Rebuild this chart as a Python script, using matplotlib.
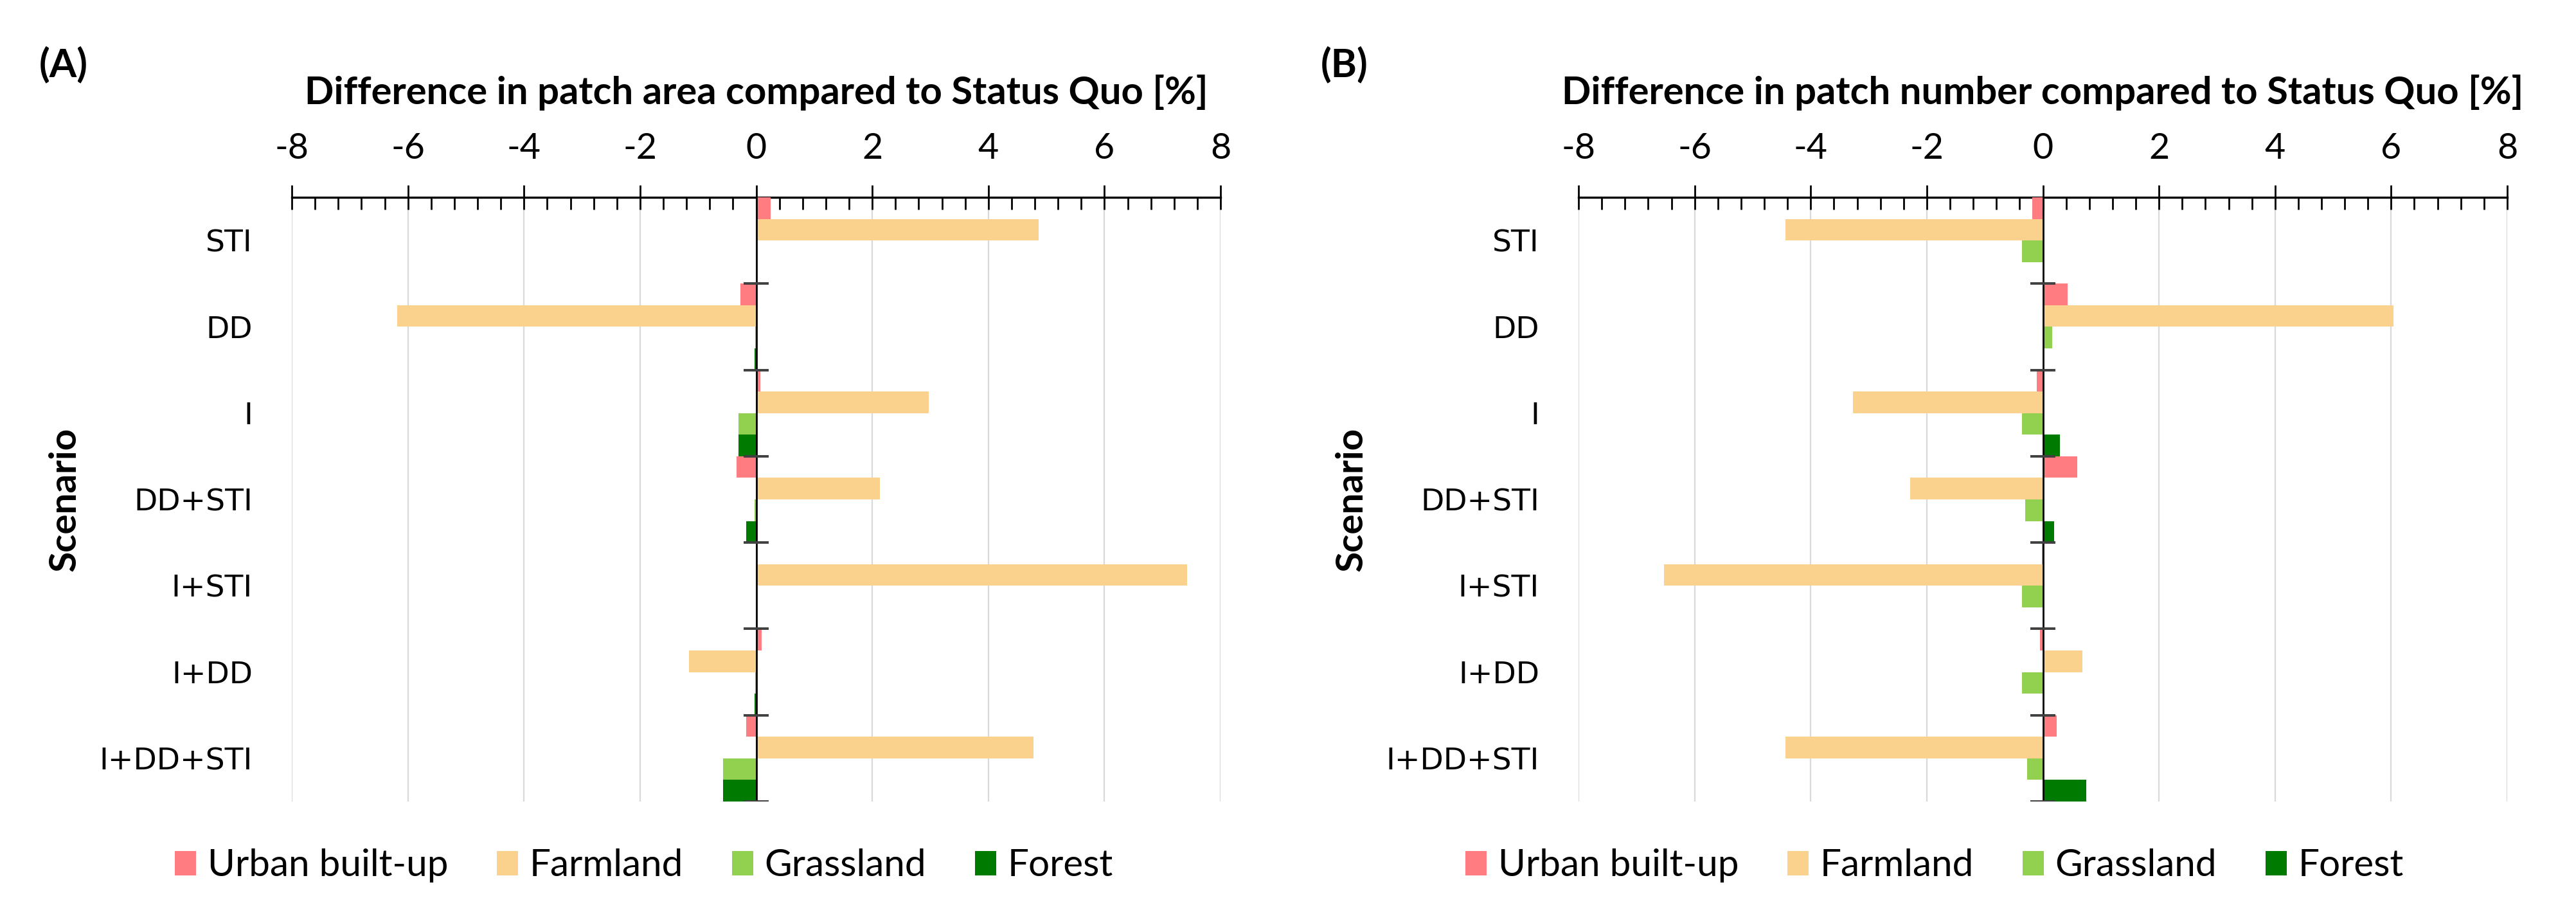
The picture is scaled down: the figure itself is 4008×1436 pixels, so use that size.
import numpy as np
import matplotlib
matplotlib.use("Agg")
import matplotlib.pyplot as plt
from matplotlib.ticker import MultipleLocator
from matplotlib.patches import Patch

plt.rcParams['font.family'] = ['Lato', 'DejaVu Sans']
plt.rcParams['axes.unicode_minus'] = False

# scenarios, top to bottom
scenarios = ["STI", "DD", "I", "DD+STI", "I+STI", "I+DD", "I+DD+STI"]
land_uses = ["Urban built-up", "Farmland", "Grassland", "Forest"]
colors = ["#FF7C80", "#FAD28E", "#92D050", "#007A00"]

# (A) difference in patch area [%]
area_urban = [0.25, -0.27, 0.07, -0.34, 0.0, 0.09, -0.17]
area_farm = [4.87, -6.19, 2.97, 2.13, 7.42, -1.16, 4.78]
area_grass = [0.0, -0.02, -0.31, -0.03, 0.0, -0.02, -0.57]
area_forest = [0.0, -0.03, -0.31, -0.17, 0.0, -0.03, -0.57]

# (B) difference in patch number [%]
num_urban = [-0.18, 0.43, -0.11, 0.59, -0.02, -0.05, 0.24]
num_farm = [-4.43, 6.04, -3.27, -2.29, -6.53, 0.68, -4.43]
num_grass = [-0.36, 0.16, -0.36, -0.31, -0.36, -0.36, -0.27]
num_forest = [0.0, 0.0, 0.29, 0.19, 0.0, 0.0, 0.75]

fig = plt.figure(figsize=(20.04, 7.18), dpi=200)

def draw_panel(rect, series, title, letter, letter_x, legend_x):
    ax = fig.add_axes(rect)
    y = np.arange(len(scenarios))
    h = 0.25
    for k, vals in enumerate(series):
        ax.barh(y - 0.375 + k * h, vals, height=h, color=colors[k],
                label=land_uses[k], zorder=3, linewidth=0)
    ax.set_xlim(-8, 8)
    ax.set_ylim(len(scenarios) - 0.5, -0.5)

    # x axis on top
    ax.xaxis.tick_top()
    ax.xaxis.set_label_position('top')
    ax.set_xticks(np.arange(-8, 9, 2))
    ax.xaxis.set_minor_locator(MultipleLocator(0.4))
    ax.tick_params(axis='x', which='major', direction='inout', length=14,
                   width=1.0, labelsize=20, pad=11, color='black')
    ax.tick_params(axis='x', which='minor', direction='in', length=7,
                   width=1.0, color='black')
    ax.set_xlabel(title, fontsize=21.5, fontweight='bold', labelpad=16)
    ax.grid(axis='x', which='major', color='#D9D9D9', linewidth=0.8, zorder=0)

    # category labels on the left
    ax.set_yticks(y)
    ax.set_yticklabels(scenarios, fontsize=17, family='DejaVu Sans')
    ax.tick_params(axis='y', length=0, pad=22)
    ax.set_ylabel("Scenario", fontsize=21, fontweight='bold')
    ax.yaxis.set_label_coords(-0.226, 0.5)

    for s in ['left', 'right', 'bottom']:
        ax.spines[s].set_visible(False)
    ax.spines['top'].set_linewidth(1.2)

    # vertical axis at zero with category boundary ticks
    ax.axvline(0, color='black', linewidth=1.0, zorder=4)
    ax.hlines(np.arange(len(scenarios)) + 0.5, -0.22, 0.22,
              color='#404040', linewidth=1.4, zorder=4)

    fig.text(letter_x, 0.930, letter, fontsize=22, fontweight='bold',
             ha='left', va='center')

    handles = [Patch(facecolor=c, label=l) for c, l in zip(colors, land_uses)]
    fig.legend(handles=handles, loc='center', bbox_to_anchor=(legend_x, 0.062),
               ncol=4, frameon=False, fontsize=21, handlelength=0.57,
               handleheight=0.65, handletextpad=0.3, columnspacing=1.3)
    return ax

draw_panel([0.1133, 0.1316, 0.3605, 0.6546],
           [area_urban, area_farm, area_grass, area_forest],
           "Difference in patch area compared to Status Quo [%]",
           "(A)", 0.0152, 0.250)
draw_panel([0.6128, 0.1316, 0.3605, 0.6546],
           [num_urban, num_farm, num_grass, num_forest],
           "Difference in patch number compared to Status Quo [%]",
           "(B)", 0.5127, 0.751)

fig.savefig("out.png", dpi=200, facecolor='white')
